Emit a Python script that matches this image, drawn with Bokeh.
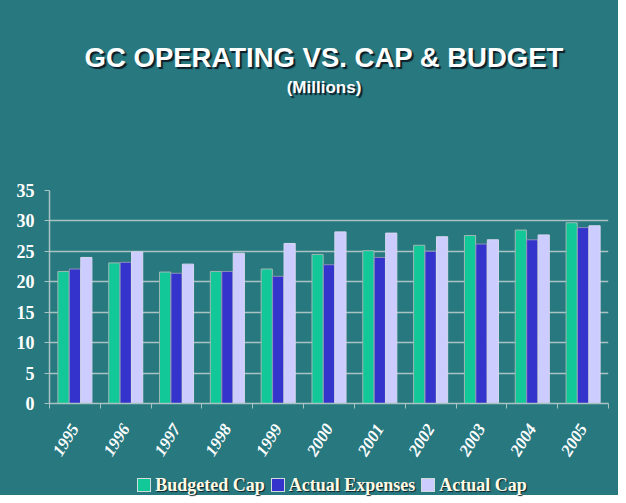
from bokeh.plotting import figure
from bokeh.models import ColumnDataSource, Range1d, FixedTicker, Div
from bokeh.layouts import column
from bokeh.transform import dodge
from bokeh.embed import file_html
from bokeh.resources import INLINE
import math

title = "GC OPERATING VS. CAP & BUDGET"
subtitle = "(Millions)"
years = ["1995", "1996", "1997", "1998", "1999", "2000", "2001", "2002", "2003", "2004", "2005"]
series_names = ["Budgeted Cap", "Actual Expenses", "Actual Cap"]
budgeted_cap = [21.7, 23.1, 21.6, 21.7, 22.1, 24.5, 25.1, 26.0, 27.6, 28.5, 29.7]
actual_expenses = [22.1, 23.2, 21.4, 21.7, 20.9, 22.8, 24.0, 25.0, 26.2, 26.9, 28.9]
actual_cap = [24.0, 24.9, 22.9, 24.7, 26.3, 28.2, 28.0, 27.4, 26.9, 27.7, 29.2]
y_ticks = [0, 5, 10, 15, 20, 25, 30, 35]

BG = "#28787f"
COLORS = ["#12c899", "#3434cc", "#ccccff"]
OUTLINES = ["#9fb8b4", "#8a90b8", "#d8d8f0"]
GRID = "#a9c2c2"
W = 618

src = ColumnDataSource(dict(x=list(range(len(years))), years=years,
                            budgeted=budgeted_cap, expenses=actual_expenses, cap=actual_cap))

p = figure(width=W, height=343, output_backend="svg", toolbar_location=None,
           x_range=Range1d(-0.5, len(years) - 0.5), y_range=Range1d(0, 35),
           min_border_left=49, min_border_right=10, min_border_top=70, min_border_bottom=58,
           background_fill_color=BG, border_fill_color=BG, outline_line_color=None,
           margin=0)

bw = 0.22
for field, off, col, oc in zip(["budgeted", "expenses", "cap"], [-0.225, 0.0, 0.225], COLORS, OUTLINES):
    p.vbar(x=dodge("x", off, range=p.x_range), top=field, width=bw, source=src,
           fill_color=col, line_color=oc, line_width=1)

# axes
p.xgrid.grid_line_color = None
p.ygrid.grid_line_color = GRID
p.ygrid.grid_line_width = 1.5
p.yaxis.ticker = FixedTicker(ticks=y_ticks)
p.yaxis.axis_line_color = GRID
p.yaxis.axis_line_width = 1.5
p.yaxis.major_tick_line_color = GRID
p.yaxis.major_tick_out = 5
p.yaxis.major_tick_in = 0
p.yaxis.minor_tick_line_color = None
p.yaxis.major_label_standoff = 10
p.yaxis.major_label_text_font = "Liberation Serif"
p.yaxis.major_label_text_font_style = "bold"
p.yaxis.major_label_text_font_size = "18px"
p.yaxis.major_label_text_color = "white"

p.xaxis.ticker = FixedTicker(ticks=list(range(len(years))),
                             minor_ticks=[i - 0.5 for i in range(len(years) + 1)])
p.xaxis.major_label_overrides = {i: y for i, y in enumerate(years)}
p.xaxis.axis_line_color = GRID
p.xaxis.axis_line_width = 1.5
p.xaxis.major_tick_line_color = None
p.xaxis.minor_tick_line_color = GRID
p.xaxis.minor_tick_out = 5
p.xaxis.minor_tick_in = 0
p.xaxis.major_label_orientation = math.radians(58)
p.xaxis.major_label_standoff = 16
p.xaxis.major_label_text_font = "Liberation Serif"
p.xaxis.major_label_text_font_style = "bold italic"
p.xaxis.major_label_text_font_size = "17px"
p.xaxis.major_label_text_color = "white"

title_html = (
    f'<div style="width:{W}px;padding-left:30px;box-sizing:border-box;text-align:center;'
    'font-family:\'Liberation Sans\';font-weight:bold;color:white;text-shadow:2px 2px 1px #0d1e2a;">'
    f'<div style="padding-top:42px;font-size:27.5px;line-height:32px;">{title}</div>'
    f'<div style="padding-top:4px;font-size:17px;line-height:20px;">{subtitle}</div></div>'
)
title_div = Div(text=title_html, width=W, height=120, margin=0,
                styles={"background-color": BG})

items = "".join(
    f'<span style="display:inline-block;width:14px;height:14px;background:{c};'
    f'border:1px solid #d0dcdc;box-sizing:border-box;vertical-align:-1px;margin:0 4px 0 6px;"></span>{n}'
    for n, c in zip(series_names, COLORS)
)
legend_html = (
    f'<div style="width:{W}px;padding-left:40px;padding-top:12px;box-sizing:border-box;text-align:center;'
    'font-family:\'Liberation Serif\';font-weight:bold;font-size:18px;line-height:20px;color:#fffbe6;'
    f'text-shadow:1px 1px 1px #0d1e2a;white-space:nowrap;">{items}</div>'
)
legend_div = Div(text=legend_html, width=W, height=32, margin=0,
                 styles={"background-color": BG})

layout = column(title_div, p, legend_div, spacing=0, styles={"background-color": BG})

open("out.html", "w").write(file_html(layout, INLINE))
